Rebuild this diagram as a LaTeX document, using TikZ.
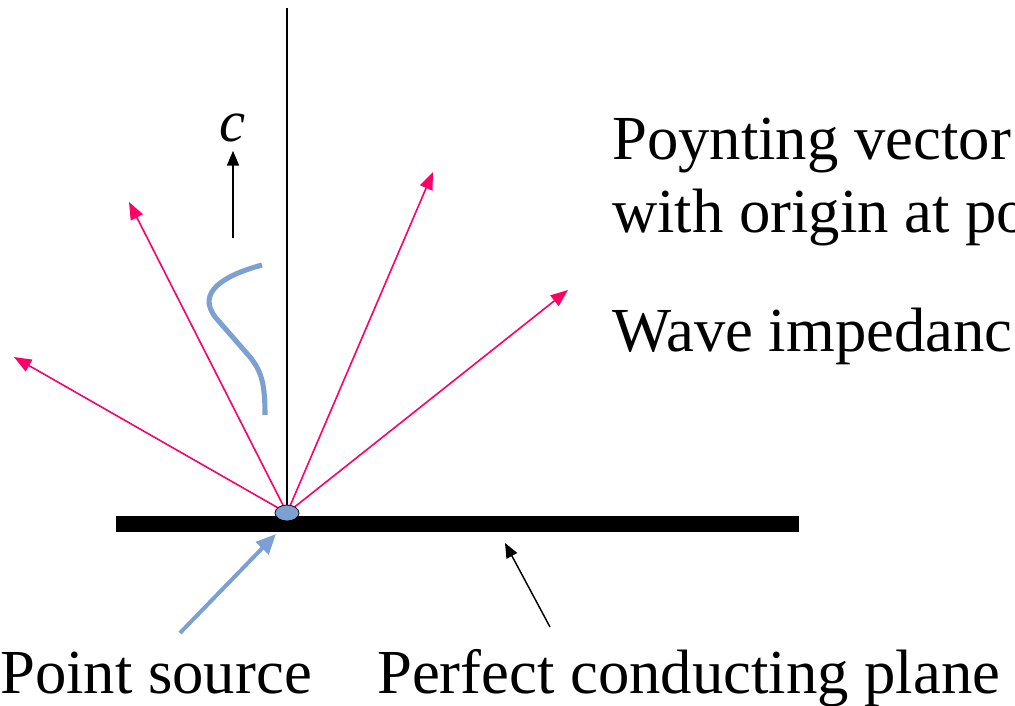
\documentclass[tikz,border=0pt]{standalone}
\usepackage{fontspec}
\setmainfont{Liberation Serif}
\usetikzlibrary{arrows.meta,positioning,shapes.geometric}
\definecolor{raycol}{RGB}{255,0,102}
\definecolor{wavecol}{RGB}{125,160,210}

\begin{document}
\begin{tikzpicture}[
  x=0.75pt, y=-0.75pt,
  lbl/.style={anchor=base west, inner sep=0pt, font=\fontsize{47}{56}\selectfont},
  ray/.style={-{Triangle[length=13pt,width=10pt]}, draw=raycol, line width=1.2pt},
  arr/.style={-{Triangle[length=11pt,width=9pt]}, line width=1.1pt},
  src/.style={ellipse, draw, fill=wavecol, line width=0.6pt, inner sep=0pt, minimum width=18pt, minimum height=12pt}
]
\clip (0,0) rectangle (1015,706);

% plane and axis
\fill (116,516) rectangle (799,532);
\coordinate (o) at (287,513);
\coordinate (top) at (287,8);
\draw[line width=1.1pt] (top) -- (o);

% rays
\coordinate (r1) at (14,357);
\coordinate (r2) at (129,202);
\coordinate (r3) at (433,172);
\coordinate (r4) at (568,290);
\foreach \t in {r1,r2,r3,r4}
  \draw[ray] (o) -- (\t);
\node[src] (ps) at (o) {};

% wave and propagation
\draw[wavecol, line width=3.8pt] (262,265) .. controls (225,275) and (195,292) .. (216,318)
  -- (250,357) .. controls (262,372) and (265,385) .. (265,415);
\coordinate (ctail) at (233,238);
\node[inner sep=0pt, anchor=base, font=\fontsize{44}{52}\selectfont\itshape] (c) at (233,142) {c};
\draw[arr, shorten >=6pt] (ctail) -- (c.south);

% text
\node[lbl] (poy) at (612,160) {Poynting vector};
\node[lbl] (orig) at (612,233) {with origin at po};
\node[lbl] (imp) at (612,352) {Wave impedanc};
\node[lbl] (pslbl) at (0,693) {Point source};
\node[lbl] (pcp) at (377,693) {Perfect conducting plane};

% pointers
\coordinate (bsrc) at (180,633);
\coordinate (bend) at (276,534);
\draw[-{Triangle[length=15pt,width=13pt]}, wavecol, line width=3pt] (bsrc) -- (bend);
\coordinate (ptail) at (550,627);
\coordinate (phead) at (505,543);
\draw[arr] (ptail) -- (phead);
\end{tikzpicture}
\end{document}
